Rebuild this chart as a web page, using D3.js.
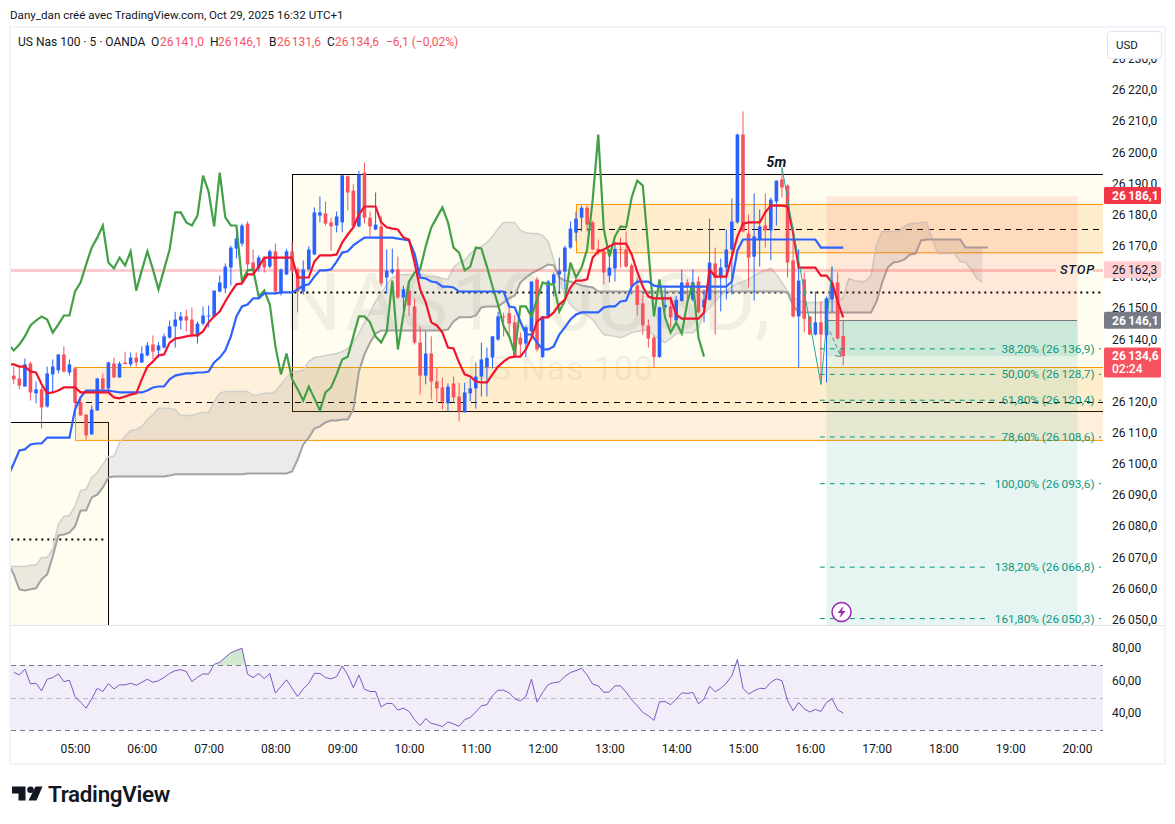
<!DOCTYPE html>
<html>
<head>
<meta charset="utf-8">
<script src="https://cdn.jsdelivr.net/npm/d3@7"></script>
<style>
body { margin: 0; background: #fff; }
text { font-family: Roboto, sans-serif; }
.domain, .tick line { display: none; }
</style>
</head>
<body>
<div id="chart"></div>
<script>
// 5 min bars, first bar 04:05, last bar 16:30
const opens = [26128.3,26127.4,26124.8,26132.2,26122.6,26123.9,26118.4,26128.7,26130.0,26135.1,26129.3,26130.6,26119.7,26115.8,26109.4,26117.1,26127.4,26124.2,26132.2,26127.7,26132.5,26131.9,26134.1,26132.5,26134.8,26138.3,26136.4,26137.3,26140.5,26144.1,26146.0,26147.3,26146.3,26140.9,26145.0,26147.3,26147.3,26155.3,26156.3,26163.0,26169.1,26170.7,26177.1,26164.6,26162.7,26165.9,26163.3,26168.2,26154.7,26160.8,26168.2,26162.4,26155.3,26162.4,26167.2,26179.7,26180.4,26177.5,26176.5,26177.5,26192.3,26187.7,26176.2,26193.5,26179.0,26175.2,26176.2,26159.8,26161.4,26162.4,26153.4,26155.6,26150.5,26138.9,26128.3,26135.4,26126.4,26124.5,26119.4,26125.8,26121.6,26116.5,26122.6,26124.2,26128.0,26131.0,26134.1,26139.9,26147.3,26148.3,26145.4,26140.5,26138.6,26142.5,26159.2,26134.3,26147.3,26157.9,26160.8,26161.7,26169.4,26174.2,26179.0,26182.2,26177.5,26169.0,26168.2,26160.4,26162.7,26168.9,26168.8,26163.7,26157.2,26151.5,26144.4,26140.5,26134.3,26150.2,26150.5,26146.0,26152.3,26158.2,26152.7,26158.5,26150.2,26152.7,26164.3,26160.1,26163.0,26168.8,26177.5,26205.7,26173.9,26166.5,26172.0,26176.5,26174.9,26184.2,26191.3,26189.3,26165.3,26147.3,26159.2,26147.3,26141.5,26145.4,26141.2,26152.7,26158.2,26141.0];
const highs = [26131.2,26130.9,26133.8,26132.8,26126.4,26124.8,26131.2,26133.5,26135.1,26137.7,26133.5,26131.2,26121.6,26115.8,26118.7,26127.4,26129.0,26132.8,26134.1,26132.8,26136.0,26135.7,26135.7,26137.7,26139.0,26141.2,26139.0,26141.8,26146.0,26148.8,26148.8,26149.5,26150.2,26145.7,26150.5,26150.8,26155.6,26160.4,26164.3,26170.0,26176.5,26177.1,26177.8,26168.8,26166.9,26166.5,26168.8,26170.7,26162.7,26169.0,26171.4,26163.0,26165.3,26169.8,26182.3,26185.8,26184.2,26179.0,26181.0,26192.6,26192.6,26189.7,26194.0,26196.7,26181.0,26187.1,26179.7,26168.8,26169.1,26166.5,26157.2,26158.5,26153.0,26144.0,26142.5,26140.9,26130.9,26127.7,26125.8,26128.0,26126.0,26126.0,26127.4,26132.5,26138.9,26137.3,26141.0,26148.8,26148.5,26150.5,26147.8,26142.1,26144.4,26158.5,26160.0,26147.5,26159.0,26161.4,26166.2,26170.0,26177.8,26181.0,26182.9,26182.9,26178.0,26172.0,26168.8,26168.8,26171.4,26172.6,26174.6,26164.3,26159.8,26154.3,26146.3,26141.2,26150.5,26156.9,26153.7,26153.9,26162.4,26159.2,26162.4,26160.1,26156.0,26178.7,26169.4,26165.9,26175.2,26185.2,26206.0,26213.1,26180.0,26186.8,26181.6,26186.8,26185.5,26190.9,26195.1,26189.7,26176.2,26168.8,26161.4,26147.5,26155.3,26152.1,26153.7,26163.3,26161.4,26146.1];
const lows = [26125.5,26123.9,26124.8,26120.3,26119.4,26111.3,26118.0,26122.9,26129.0,26129.3,26128.3,26118.1,26115.5,26107.8,26109.4,26117.0,26123.2,26123.5,26127.7,26127.7,26131.9,26131.2,26131.2,26132.5,26134.5,26133.5,26134.0,26137.0,26140.2,26137.3,26143.1,26142.5,26140.5,26138.6,26144.4,26143.8,26147.0,26155.0,26154.7,26157.2,26165.9,26169.8,26160.8,26161.4,26161.7,26161.4,26162.7,26154.3,26154.0,26160.5,26161.0,26148.6,26154.3,26162.0,26167.0,26177.5,26176.5,26168.5,26174.3,26174.3,26181.3,26175.9,26175.9,26177.1,26173.0,26175.0,26156.9,26154.7,26160.8,26153.0,26147.6,26147.6,26138.3,26122.2,26125.5,26120.6,26119.7,26117.4,26116.8,26119.7,26113.6,26116.5,26120.0,26117.7,26121.6,26121.6,26130.6,26139.5,26140.9,26140.9,26134.0,26134.3,26134.3,26142.0,26136.0,26134.0,26147.0,26153.7,26155.0,26155.9,26169.0,26171.4,26174.6,26174.6,26168.5,26167.0,26157.5,26158.2,26158.5,26163.0,26163.0,26154.3,26147.6,26141.5,26137.3,26130.9,26134.0,26149.0,26143.8,26145.7,26152.0,26151.1,26152.1,26148.3,26145.4,26152.4,26141.5,26148.9,26152.7,26154.3,26177.1,26174.3,26156.6,26152.4,26163.3,26169.4,26165.3,26176.5,26185.5,26159.8,26147.0,26130.9,26142.2,26141.2,26141.2,26125.5,26126.1,26148.6,26140.0,26131.6];
const closes = [26127.1,26125.1,26131.9,26122.9,26123.9,26118.1,26129.0,26131.2,26135.1,26129.6,26131.9,26119.7,26115.5,26109.1,26117.4,26127.4,26123.9,26132.5,26127.7,26132.2,26132.0,26134.1,26132.5,26135.4,26138.0,26136.0,26138.0,26140.9,26144.1,26146.3,26147.3,26146.0,26141.5,26145.0,26147.6,26147.6,26155.6,26158.2,26163.3,26169.4,26172.3,26176.5,26164.0,26162.0,26166.2,26163.0,26168.2,26155.3,26162.4,26168.2,26162.0,26155.3,26162.4,26168.8,26180.7,26180.7,26177.1,26176.2,26179.4,26192.6,26187.1,26176.2,26192.9,26179.0,26176.2,26176.8,26157.9,26162.0,26162.4,26153.4,26156.0,26150.8,26138.9,26128.3,26135.4,26126.4,26124.2,26120.0,26124.8,26121.3,26116.8,26122.9,26124.2,26128.0,26133.5,26134.0,26140.9,26147.3,26147.0,26145.0,26134.3,26138.3,26143.8,26158.5,26136.7,26147.3,26158.5,26160.8,26162.0,26169.4,26175.5,26178.7,26182.2,26176.8,26168.8,26168.0,26161.4,26163.0,26169.0,26168.6,26163.3,26156.9,26151.0,26144.4,26140.2,26134.3,26150.2,26151.0,26147.0,26152.6,26158.2,26156.9,26158.2,26148.6,26152.7,26164.6,26159.8,26163.0,26168.8,26177.8,26205.7,26174.6,26166.2,26173.0,26176.2,26174.9,26184.8,26190.9,26188.7,26164.6,26147.3,26158.8,26146.6,26141.5,26145.4,26141.5,26153.1,26157.9,26140.2,26134.6];

// line series start one bar earlier (04:00), off the left edge of the pane
const tenkan = [26131.9,26131.9,26131.2,26131.2,26129.6,26129.3,26125.5,26122.6,26122.9,26123.5,26124.5,26124.5,26124.5,26122.9,26122.9,26122.9,26122.9,26122.9,26122.9,26121.3,26121.0,26121.6,26122.2,26122.6,26127.1,26131.2,26132.8,26134.8,26135.1,26138.9,26140.2,26140.5,26140.9,26141.2,26141.2,26142.5,26145.4,26147.3,26148.9,26152.1,26155.0,26157.6,26157.9,26160.8,26160.8,26163.3,26166.2,26166.2,26166.2,26166.2,26166.2,26166.2,26159.8,26159.8,26159.8,26164.9,26166.9,26166.9,26166.9,26167.2,26171.0,26173.6,26175.9,26180.0,26182.6,26182.6,26182.6,26177.5,26175.9,26175.5,26175.2,26172.6,26172.0,26164.6,26156.0,26151.8,26145.4,26144.4,26142.1,26137.3,26137.0,26132.5,26128.7,26128.0,26126.4,26126.1,26126.1,26128.7,26131.2,26132.8,26134.1,26134.4,26134.4,26136.7,26140.5,26145.7,26147.0,26147.0,26148.6,26151.1,26152.7,26156.6,26158.8,26158.8,26159.2,26166.2,26168.2,26168.8,26169.8,26170.7,26170.7,26170.7,26167.2,26161.7,26156.9,26153.7,26153.1,26153.1,26153.1,26153.1,26147.9,26146.6,26146.6,26146.6,26146.6,26148.6,26162.4,26160.1,26160.1,26160.1,26166.5,26173.0,26177.1,26177.5,26177.5,26177.5,26180.7,26182.9,26182.9,26182.9,26182.6,26174.2,26163.0,26163.0,26163.0,26163.0,26160.4,26160.4,26158.2,26152.1,26147.0];
const kijun = [26096.2,26100.1,26104.3,26104.6,26106.2,26106.5,26106.5,26108.4,26108.4,26108.4,26108.4,26108.4,26117.4,26121.3,26123.5,26123.5,26123.5,26123.5,26123.5,26123.2,26122.9,26122.9,26122.9,26122.9,26122.9,26123.5,26124.5,26124.8,26124.8,26127.1,26128.3,26128.7,26129.0,26129.0,26129.3,26129.3,26129.6,26132.5,26134.1,26136.4,26140.9,26147.3,26150.5,26151.1,26153.1,26153.1,26154.7,26154.7,26154.7,26155.0,26155.0,26155.0,26156.0,26157.2,26157.6,26160.1,26162.1,26162.1,26162.4,26164.9,26167.8,26168.2,26170.1,26171.4,26172.6,26172.6,26172.6,26172.6,26172.6,26172.6,26172.3,26172.0,26171.7,26167.5,26159.8,26159.5,26158.5,26158.2,26156.9,26156.9,26156.6,26155.3,26155.3,26155.3,26155.3,26155.3,26155.3,26155.3,26155.3,26155.3,26150.5,26150.2,26145.7,26141.5,26141.5,26138.9,26136.7,26136.7,26137.7,26141.5,26143.8,26146.3,26147.9,26148.6,26148.6,26148.6,26148.6,26150.2,26150.5,26150.5,26152.1,26152.4,26156.9,26158.5,26158.5,26158.5,26157.2,26156.9,26156.9,26156.9,26156.9,26156.9,26156.9,26156.9,26156.9,26156.9,26156.9,26156.9,26156.9,26156.9,26158.5,26168.5,26172.0,26172.0,26172.0,26172.0,26172.0,26172.0,26172.0,26172.0,26172.0,26172.0,26172.0,26172.0,26172.0,26172.0,26169.4,26169.4,26169.4,26169.4,26169.4];
const chikou = [26138.3,26136.4,26138.3,26140.9,26144.4,26146.0,26147.3,26146.3,26142.1,26144.7,26147.6,26147.6,26155.3,26158.2,26164.0,26169.4,26172.6,26176.5,26164.6,26162.7,26166.2,26163.7,26168.2,26155.6,26162.1,26168.2,26162.4,26156.0,26162.4,26168.8,26180.7,26180.7,26177.5,26176.5,26179.7,26192.5,26187.4,26176.2,26193.5,26179.1,26176.5,26176.5,26158.5,26162.1,26162.4,26153.7,26155.6,26151.1,26137.7,26128.7,26135.4,26127.1,26123.9,26120.3,26124.8,26121.0,26117.1,26122.9,26124.5,26128.7,26133.5,26134.4,26140.9,26147.3,26147.3,26145.4,26140.9,26138.9,26142.5,26158.8,26136.7,26147.9,26158.5,26161.4,26162.4,26169.8,26175.9,26179.1,26182.3,26177.5,26169.4,26167.8,26162.1,26163.3,26169.4,26169.1,26163.3,26156.9,26151.1,26144.1,26140.9,26135.4,26150.5,26150.5,26147.3,26152.7,26158.2,26157.6,26157.6,26148.9,26152.4,26164.6,26159.8,26163.0,26168.8,26184.8,26205.7,26175.2,26166.5,26173.0,26176.2,26175.9,26185.5,26190.9,26189.3,26168.8,26147.3,26159.2,26147.0,26142.1,26145.4,26141.8,26151.8,26158.2,26140.5,26134.4];
const spanA = [26067.0,26067.0,26067.0,26067.0,26067.4,26067.4,26069.9,26069.9,26072.5,26080.5,26083.1,26083.4,26086.3,26091.4,26091.8,26095.6,26097.2,26099.8,26102.3,26102.3,26106.8,26108.8,26110.7,26111.0,26112.0,26114.2,26115.8,26117.8,26117.8,26117.8,26117.4,26115.5,26115.5,26115.5,26116.1,26116.5,26116.5,26120.0,26122.6,26123.2,26123.2,26123.2,26123.2,26123.2,26121.9,26122.2,26122.6,26122.6,26123.2,26125.5,26127.7,26129.3,26129.6,26130.0,26132.8,26134.1,26134.4,26134.8,26135.1,26135.4,26136.0,26137.0,26138.9,26141.8,26145.4,26148.6,26152.1,26154.7,26157.6,26159.8,26160.4,26160.8,26160.8,26160.4,26160.8,26160.4,26160.1,26160.1,26159.5,26159.2,26163.0,26164.6,26165.3,26167.5,26168.8,26169.8,26171.0,26173.0,26175.5,26177.5,26177.5,26177.5,26174.9,26174.2,26173.9,26173.9,26173.3,26171.4,26165.6,26159.2,26154.0,26151.1,26149.5,26148.2,26147.6,26146.3,26143.8,26141.5,26141.2,26140.9,26140.5,26141.2,26142.1,26142.5,26142.8,26143.1,26141.2,26139.9,26138.9,26140.2,26141.8,26142.1,26142.1,26142.1,26143.8,26148.2,26150.2,26152.1,26154.0,26155.6,26156.9,26157.9,26158.5,26159.2,26160.4,26161.4,26162.1,26162.7,26160.8,26158.2,26155.3,26153.4,26152.4,26151.8,26151.8,26151.8,26151.8,26152.1,26152.1,26152.1,26153.4,26159.5,26158.8,26158.5,26158.5,26160.4,26170.4,26174.6,26174.6,26174.6,26174.6,26176.2,26177.1,26177.1,26177.5,26177.5,26172.0,26167.5,26167.5,26167.5,26167.5,26164.9,26164.6,26162.4,26159.5,26158.2];
const spanB = [26068.0,26064.5,26059.7,26059.3,26059.7,26060.0,26062.9,26064.5,26070.2,26077.0,26077.3,26077.9,26079.9,26085.0,26085.0,26089.2,26090.1,26092.4,26095.6,26095.9,26095.9,26095.9,26095.9,26095.9,26095.9,26095.9,26095.9,26095.9,26095.9,26096.2,26096.6,26096.6,26096.6,26096.6,26096.6,26096.6,26096.6,26096.6,26096.6,26096.6,26096.6,26096.6,26096.6,26096.9,26096.9,26096.9,26096.9,26096.9,26096.9,26096.9,26096.9,26097.5,26101.4,26106.2,26108.4,26111.3,26112.0,26113.3,26113.9,26113.9,26114.2,26114.2,26117.4,26129.6,26135.1,26138.9,26141.8,26142.8,26142.8,26142.8,26142.8,26142.8,26142.8,26142.8,26142.8,26142.8,26142.8,26142.8,26142.8,26143.1,26145.7,26147.0,26147.0,26147.0,26147.6,26150.2,26150.5,26150.5,26150.5,26151.8,26153.1,26154.0,26158.2,26159.8,26161.1,26162.1,26163.0,26164.0,26163.7,26159.8,26158.8,26158.5,26157.9,26157.2,26156.9,26156.6,26155.3,26155.3,26155.3,26155.3,26155.3,26155.3,26155.3,26155.3,26155.3,26155.3,26155.3,26155.3,26155.3,26155.3,26155.3,26155.3,26155.3,26155.3,26155.3,26155.3,26155.3,26155.3,26155.3,26155.3,26155.3,26155.3,26155.3,26155.3,26155.3,26155.3,26155.3,26155.3,26155.3,26155.3,26155.0,26150.8,26148.6,26148.6,26148.6,26148.6,26148.6,26148.6,26148.6,26148.6,26148.6,26148.6,26148.6,26148.6,26148.6,26148.6,26152.1,26158.2,26163.0,26164.6,26164.9,26165.6,26167.2,26167.5,26171.7,26172.0,26172.0,26172.0,26172.0,26172.0,26172.0,26172.0,26169.4,26169.4,26169.4,26169.4,26169.4];
const rsi = [65.7,64.0,67.7,58.5,58.9,54.2,61.4,62.4,64.7,59.9,60.8,50.7,47.2,43.5,49.3,55.8,53.8,58.7,55.4,57.9,57.9,58.9,57.7,59.5,61.4,59.5,60.5,62.4,65.0,66.7,67.3,66.1,59.9,62.6,64.7,64.5,70.6,71.8,74.9,77.8,79.2,80.6,64.5,62.4,64.9,61.8,64.9,52.8,56.9,61.0,55.8,50.7,55.4,58.9,65.0,65.0,62.4,61.6,63.0,69.6,64.0,56.2,64.0,55.2,53.8,53.8,44.2,46.4,46.4,42.3,43.5,41.5,36.4,32.7,37.0,34.1,33.3,32.1,35.0,33.7,32.3,36.4,37.8,41.1,45.0,45.6,51.3,54.6,54.6,53.0,49.3,47.9,50.9,61.4,47.2,53.2,58.1,59.3,59.7,63.2,65.5,66.7,68.2,64.0,58.3,57.3,53.2,53.6,57.3,57.3,53.4,48.7,45.0,40.9,38.8,36.0,47.4,47.6,45.6,49.1,53.0,52.6,53.2,46.2,49.1,57.1,53.6,55.8,58.9,63.6,73.7,55.8,52.2,54.2,55.8,55.6,59.5,61.6,60.5,48.1,41.9,47.0,43.1,41.1,42.7,41.5,47.0,49.3,42.5,40.5];

// 26130 is not listed: the last price tag covers it in the reference
const priceTicks = d3.range(26050, 26231, 10).filter(p => p !== 26130);
const rsiTicks = [80, 60, 40];
const hourTicks = d3.range(5, 21);
const fibPct = ['38,20', '50,00', '61,80', '78,60', '100,00', '138,20', '161,80'];
const fibLevels = [26136.9, 26128.7, 26120.4, 26108.6, 26093.6, 26066.8, 26050.3];

const frFmt = v => {
  const s = v.toFixed(1).replace('.', ',');
  return s.slice(0, 2) + '\u2009' + s.slice(2);
};

const width = 1175, height = 824;
const pane = {left: 11, right: 1103, top: 28, bottom: 625, axisX: 1112};

const x = d3.scaleLinear().domain([300, 1200]).range([75, 1077]);
const y = d3.scaleLinear().domain([26050, 26220]).range([619.5, 90]);
const yr = d3.scaleLinear().domain([70, 30]).range([665.3, 730]);
const bar = i => 245 + 5 * i;      // candles
const lbar = i => 240 + 5 * i;     // line series

const svg = d3.select('#chart').append('svg').attr('width', width).attr('height', height);
svg.append('rect').attr('width', width).attr('height', height).attr('fill', '#fff');

svg.append('text').attr('x', 10).attr('y', 19).attr('font-size', 11.6).attr('fill', '#131722')
  .text('Dany_dan créé avec TradingView.com, Oct 29, 2025 16:32 UTC+1');

svg.append('rect').attr('x', 10).attr('y', 27).attr('width', 1155).attr('height', 737)
  .attr('fill', 'none').attr('stroke', '#f0f3fa').attr('stroke-width', 2);

const defs = svg.append('defs');
defs.append('clipPath').attr('id', 'mainclip').append('rect')
  .attr('x', pane.left).attr('y', pane.top).attr('width', pane.right - pane.left).attr('height', pane.bottom - pane.top);
defs.append('clipPath').attr('id', 'obclip').append('rect')
  .attr('x', pane.left).attr('y', 626).attr('width', pane.right - pane.left).attr('height', yr(70) - 626);
const grad = defs.append('linearGradient').attr('id', 'obgrad').attr('x1', 0).attr('x2', 0).attr('y1', 0).attr('y2', 1);
grad.append('stop').attr('offset', '0%').attr('stop-color', '#4caf50').attr('stop-opacity', 0.3);
grad.append('stop').attr('offset', '100%').attr('stop-color', '#4caf50').attr('stop-opacity', 0.05);

const g = svg.append('g').attr('clip-path', 'url(#mainclip)');

// watermark
g.append('text').attr('x', 284).attr('y', 330).attr('font-size', 80).attr('letter-spacing', 3.4)
  .attr('fill', '#000').attr('opacity', 0.055).text('NAS100USD,');
g.append('text').attr('x', 468).attr('y', 380).attr('font-size', 34).attr('letter-spacing', 0.9)
  .attr('fill', '#000').attr('opacity', 0.055).text('US Nas 100');

const xEnd = 1226;
function box(t0, t1, p0, p1, fill, stroke) {
  const r = g.append('rect').attr('x', Math.round(x(t0)) + 0.5).attr('y', Math.round(y(p0)) + 0.5)
    .attr('width', x(t1) - x(t0)).attr('height', y(p1) - y(p0)).attr('fill', fill);
  if (stroke) r.attr('stroke', stroke).attr('stroke-width', 1);
}
function hline(t0, t1, p, stroke, w, dash) {
  g.append('line').attr('x1', x(t0)).attr('x2', x(t1)).attr('y1', Math.round(y(p)) + 0.5).attr('y2', Math.round(y(p)) + 0.5)
    .attr('stroke', stroke).attr('stroke-width', w).attr('stroke-dasharray', dash);
}

// yellow boxes
box(180, 330, 26113.3, 26038.5, 'rgba(255,235,59,0.08)', '#000');
hline(232, 328, 26075.9, '#000', 2, '2,4');
box(495, xEnd, 26192.9, 26116.8, 'rgba(255,235,59,0.08)', '#000');
hline(497, xEnd, 26155.1, '#000', 2, '2,4');

// orange boxes
box(300, xEnd, 26131.2, 26107.8, 'rgba(255,152,0,0.14)', '#ff9800');
hline(300, xEnd, 26119.7, '#000', 1, '6,5');
box(750, xEnd, 26183.3, 26167.8, 'rgba(255,152,0,0.14)', '#ff9800');
hline(750, xEnd, 26175.5, '#000', 1, '6,5');

// ichimoku cloud
const cloud = d3.area().x((d, i) => x(lbar(i))).y0(d => y(d)).y1((d, i) => y(spanB[i]));
g.append('path').datum(spanA).attr('d', cloud).attr('fill', 'rgba(110,110,105,0.14)');
const lineOf = d3.line().x((d, i) => x(lbar(i))).y(d => y(d));
g.append('path').datum(spanA).attr('d', lineOf).attr('fill', 'none').attr('stroke', '#cfcfcb').attr('stroke-width', 1.5);
g.append('path').datum(spanB).attr('d', lineOf).attr('fill', 'none').attr('stroke', '#a2a2a2').attr('stroke-width', 2);

// stop line
hline(180, 1181, 26162.3, 'rgba(247,82,95,0.3)', 3);
hline(1214, xEnd, 26162.3, 'rgba(247,82,95,0.3)', 3);

// short position
box(974.5, 1200, 26186.1, 26146.1, 'rgba(247,82,60,0.12)');
box(974.5, 1200, 26146.1, 26040, 'rgba(8,153,129,0.1)');
box(974.5, 1200, 26146.1, 26134.6, 'rgba(8,153,129,0.12)');
hline(974.5, 1200, 26146.1, '#787b86', 1);

// candles
const up = '#2962ff', down = '#f7525f';
const candles = g.append('g').selectAll('g').data(opens).join('g');
candles.append('line')
  .attr('x1', (d, i) => x(bar(i))).attr('x2', (d, i) => x(bar(i)))
  .attr('y1', (d, i) => y(highs[i])).attr('y2', (d, i) => y(lows[i]))
  .attr('stroke', (d, i) => closes[i] >= d ? up : down).attr('stroke-width', 1);
candles.append('rect')
  .attr('x', (d, i) => x(bar(i)) - 1.8).attr('width', 3.6)
  .attr('y', (d, i) => Math.min(y(d), y(closes[i])))
  .attr('height', (d, i) => Math.max(1, Math.abs(y(d) - y(closes[i]))))
  .attr('fill', (d, i) => closes[i] >= d ? up : down);

// indicator lines
g.append('path').datum(chikou).attr('d', lineOf).attr('fill', 'none').attr('stroke', '#43a047').attr('stroke-width', 2.2);
g.append('path').datum(kijun).attr('d', lineOf).attr('fill', 'none').attr('stroke', '#2d62ff').attr('stroke-width', 2.2);
g.append('path').datum(tenkan).attr('d', lineOf).attr('fill', 'none').attr('stroke', '#f0152e').attr('stroke-width', 2.2);

// zigzag, arrow
const zigT = [935, 970, 980], zigP = [26195.1, 26125.5, 26163.3];
g.append('path').datum(zigT).attr('d', d3.line().x(d => x(d)).y((d, i) => y(zigP[i])))
  .attr('fill', 'none').attr('stroke', '#22ab94').attr('stroke-width', 1);
g.append('line').attr('x1', x(978)).attr('y1', y(26142.5)).attr('x2', x(988)).attr('y2', y(26134.4))
  .attr('stroke', '#787b86').attr('stroke-dasharray', '4,3');
g.append('path').attr('transform', `translate(${x(988)},${y(26134.4)})`)
  .attr('d', 'M-6,-1 L0,0 L-1,-7').attr('fill', 'none').attr('stroke', '#787b86');

g.append('text').attr('x', x(930)).attr('y', 167).attr('text-anchor', 'middle').attr('font-size', 14)
  .attr('font-style', 'italic').attr('font-weight', 700).attr('fill', '#131722').text('5m');
g.append('text').attr('x', 1095).attr('y', y(26162.3) + 4.5).attr('text-anchor', 'end').attr('font-size', 13)
  .attr('font-style', 'italic').attr('font-weight', 500).attr('letter-spacing', 0.8).attr('fill', '#131722').text('STOP');

// fibonacci levels
fibLevels.forEach((p, i) => {
  const t = g.append('text').attr('x', 1094.5).attr('y', y(p) + 4).attr('text-anchor', 'end')
    .attr('font-size', 11.8).attr('fill', '#089981').text(`${fibPct[i]}% (${frFmt(p)})`);
  const left = 1094.5 - t.node().getComputedTextLength() - 5;
  g.append('line').attr('x1', x(969)).attr('x2', left).attr('y1', y(p)).attr('y2', y(p))
    .attr('stroke', '#089981').attr('stroke-dasharray', '5,5');
  g.append('line').attr('x1', 1099).attr('x2', 1101).attr('y1', y(p)).attr('y2', y(p)).attr('stroke', '#089981');
});

// alert badge
const badge = g.append('g').attr('transform', `translate(${x(988.5)},${y(26052.4)})`);
badge.append('circle').attr('r', 9.5).attr('fill', '#fff').attr('stroke', '#9c27b0').attr('stroke-width', 1.5);
badge.append('path').attr('d', 'M2,-6 L-4,1 L-0.5,1 L-2,6 L4,-1 L0.5,-1 Z').attr('fill', '#9c27b0');

// pane divider
svg.append('line').attr('x1', 11).attr('x2', 1164).attr('y1', 625.5).attr('y2', 625.5).attr('stroke', '#e0e3eb');

// price axis
const axisFont = s => s.selectAll('text').attr('font-size', 12).attr('fill', '#131722').attr('font-family', 'Roboto, sans-serif');
svg.append('g').attr('transform', `translate(${pane.axisX},0)`)
  .call(d3.axisRight(y).tickValues(priceTicks).tickSize(0).tickPadding(0).tickFormat(frFmt))
  .call(axisFont);

// USD button
svg.append('rect').attr('x', 1107.5).attr('y', 31.5).attr('width', 54).attr('height', 27).attr('rx', 3)
  .attr('fill', '#fff').attr('stroke', '#e0e3eb');
svg.append('text').attr('x', 1127).attr('y', 49).attr('text-anchor', 'middle').attr('font-size', 11.5).attr('fill', '#131722').text('USD');

// price labels
function tag(p, bg, color, bold, sub) {
  const h = sub ? 30 : 17;
  const top = y(p) - 8.5;
  svg.append('rect').attr('x', 1104).attr('y', top).attr('width', 57).attr('height', h).attr('rx', 1.5).attr('fill', bg);
  svg.append('text').attr('x', 1112).attr('y', top + 13).attr('font-size', 12).attr('font-weight', bold ? 700 : 400)
    .attr('fill', color).text(frFmt(p));
  if (sub) svg.append('text').attr('x', 1112).attr('y', top + 26).attr('font-size', 12).attr('font-weight', 500)
    .attr('fill', color).text(sub);
}
tag(26186.1, '#f23645', '#fff', true);
tag(26162.3, '#ffcdd2', '#131722', false);
tag(26146.1, '#787b86', '#fff', true);
tag(26134.6, '#f7525f', '#fff', true, '02:24');

// rsi pane
svg.append('rect').attr('x', pane.left).attr('width', pane.right - pane.left)
  .attr('y', yr(70)).attr('height', yr(30) - yr(70)).attr('fill', 'rgba(126,87,194,0.1)');
[[70, '#787b86'], [30, '#787b86'], [50, '#bdb5cb']].forEach(l => {
  svg.append('line').attr('x1', pane.left).attr('x2', pane.right).attr('y1', Math.round(yr(l[0])) + 0.5).attr('y2', Math.round(yr(l[0])) + 0.5)
    .attr('stroke', l[1]).attr('stroke-width', 1).attr('stroke-dasharray', '5,4');
});
svg.append('path').datum(rsi).attr('clip-path', 'url(#obclip)')
  .attr('d', d3.area().x((d, i) => x(bar(i))).y0(yr(70)).y1(d => yr(d)))
  .attr('fill', 'url(#obgrad)');
svg.append('path').datum(rsi).attr('d', d3.line().x((d, i) => x(bar(i))).y(d => yr(d)))
  .attr('fill', 'none').attr('stroke', '#7e57c2').attr('stroke-width', 1);

svg.append('g').attr('transform', `translate(${pane.axisX},-1)`)
  .call(d3.axisRight(yr).tickValues(rsiTicks).tickSize(0).tickPadding(0).tickFormat(d => d3.format('.2f')(d).replace('.', ',')))
  .call(axisFont);

// time axis
svg.append('g').attr('transform', 'translate(0,744)')
  .call(d3.axisBottom(x).tickValues(hourTicks.map(h => h * 60)).tickSize(0).tickPadding(0)
    .tickFormat(m => String(m / 60).padStart(2, '0') + ':00'))
  .call(axisFont);

// legend
const legendVals = [['O', '26\u200a141,0', 151, 160], ['H', '26\u200a146,1', 210, 218], ['B', '26\u200a131,6', 269, 277], ['C', '26\u200a134,6', 327, 335]];
const legend = svg.append('g').attr('font-size', 12).attr('fill', '#131722');
legend.append('text').attr('x', 18).attr('y', 46).text('US Nas 100 · 5 · OANDA');
legendVals.forEach(v => {
  legend.append('text').attr('x', v[2]).attr('y', 46).text(v[0]);
  legend.append('text').attr('x', v[3]).attr('y', 46).attr('fill', '#f7525f').text(v[1]);
});
legend.append('text').attr('x', 386).attr('y', 46).attr('fill', '#f7525f').text('−6,1 (−0,02%)');

// tradingview logo
const logo = svg.append('g').attr('fill', '#131722');
logo.append('path').attr('d', 'M12,786.5 H25.5 V800.5 H18.5 V793.5 H12 Z');
logo.append('circle').attr('cx', 30.5).attr('cy', 789.8).attr('r', 3.3);
logo.append('path').attr('d', 'M35.5,786.5 H42.5 L36.5,800.5 H28.5 Z');
svg.append('text').attr('x', 48).attr('y', 802).attr('font-family', 'Inter, sans-serif').attr('font-size', 22.4)
  .attr('font-weight', 600).attr('letter-spacing', -0.3).attr('fill', '#131722').text('TradingView');
</script>
</body>
</html>
